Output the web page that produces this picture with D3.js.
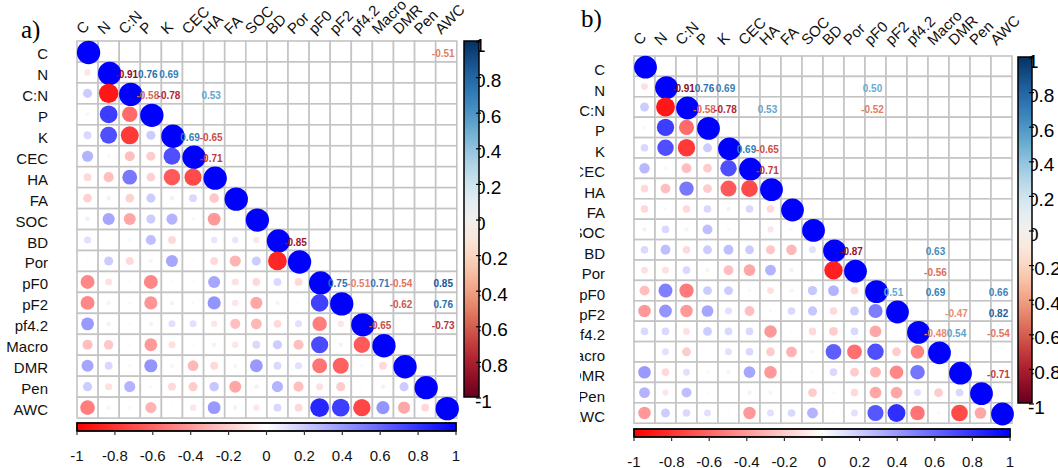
<!DOCTYPE html>
<html>
<head>
<meta charset="utf-8">
<script src="https://cdn.jsdelivr.net/npm/d3@7"></script>
<style>
  body { margin: 0; background: #fff; }
  svg { display: block; }
</style>
</head>
<body>
<div id="chart"></div>
<script>
// variable names, same order for rows and columns
const vars = ['C', 'N', 'C:N', 'P', 'K', 'CEC', 'HA', 'FA', 'SOC', 'BD', 'Por',
  'pF0', 'pF2', 'pf4.2', 'Macro', 'DMR', 'Pen', 'AWC'];

// lower triangle, row i holds r(i, 0..i-1)
const corrA = [
  [],
  [-0.10],
  [0.20, -0.91],
  [-0.04, 0.76, -0.58],
  [0.15, 0.69, -0.78, 0.20],
  [0.30, 0.03, -0.25, -0.20, 0.69],
  [-0.15, -0.25, 0.53, -0.18, -0.65, -0.71],
  [-0.18, 0.05, -0.18, 0.20, 0.05, 0.15, -0.22],
  [0.06, 0.35, -0.35, 0.20, 0.30, 0.03, -0.40, 0.02],
  [0.12, 0.02, 0.03, 0.25, -0.15, 0.02, 0.10, 0.10, -0.10],
  [0.02, 0.20, -0.15, -0.05, 0.35, 0.02, -0.15, -0.30, 0.20, -0.85],
  [-0.47, -0.12, 0.02, -0.47, 0.02, 0.02, 0.35, -0.12, -0.15, 0.15, -0.15],
  [-0.47, -0.05, -0.03, -0.42, 0.05, 0.03, 0.42, -0.10, -0.35, -0.05, 0.02, 0.75],
  [0.40, 0.05, 0.02, 0.05, 0.12, 0.12, -0.10, -0.25, -0.28, -0.15, 0.12, -0.51, -0.10],
  [-0.25, -0.22, 0.02, -0.40, -0.12, 0.02, 0.05, -0.10, 0.15, 0.20, -0.25, 0.71, 0.05, -0.65],
  [0.35, 0.15, 0.03, 0.42, -0.05, -0.28, -0.15, -0.05, 0.40, 0.15, 0.12, -0.54, -0.62, 0.03, -0.15],
  [0.20, -0.12, 0.30, -0.03, -0.15, -0.20, 0.22, -0.35, -0.06, 0.30, -0.25, -0.12, -0.20, 0.02, 0.05, 0.20],
  [-0.51, -0.05, -0.03, -0.30, 0.02, -0.10, 0.40, 0.05, -0.10, 0.15, -0.15, 0.85, 0.76, -0.73, 0.42, -0.35, -0.15]
];

const corrB = [
  [],
  [-0.12],
  [0.20, -0.91],
  [-0.04, 0.76, -0.58],
  [0.15, 0.69, -0.78, 0.20],
  [0.28, 0.03, -0.25, -0.20, 0.69],
  [-0.15, -0.25, 0.53, -0.20, -0.65, -0.71],
  [-0.15, 0.03, -0.15, 0.15, 0.05, 0.15, -0.15],
  [0.05, 0.15, -0.05, 0.25, 0.03, 0.02, -0.10, 0.03],
  [0.15, 0.25, -0.15, 0.20, 0.25, 0.20, -0.22, -0.28, 0.12],
  [-0.12, -0.12, 0.15, -0.05, -0.25, -0.35, 0.30, 0.05, 0.02, -0.87],
  [-0.25, 0.50, -0.52, 0.20, 0.20, -0.03, -0.12, -0.05, 0.22, 0.30, -0.15],
  [-0.40, 0.42, -0.40, 0.35, 0.12, -0.25, -0.03, 0.15, 0.22, -0.15, 0.20, 0.51],
  [0.15, 0.15, -0.12, 0.20, 0.15, 0.15, -0.40, 0.02, -0.15, -0.20, 0.15, -0.35, 0.02],
  [0.01, 0.12, -0.20, -0.02, 0.12, 0.15, -0.20, -0.30, 0.04, 0.63, -0.56, 0.69, -0.20, -0.48],
  [0.40, -0.15, 0.12, 0.03, -0.05, 0.35, -0.40, 0.02, -0.03, 0.15, -0.20, -0.30, -0.47, 0.54, 0.01],
  [0.30, -0.10, 0.25, 0.02, 0.01, 0.05, -0.05, 0.01, -0.20, 0.03, -0.15, -0.35, -0.35, 0.12, -0.20, 0.15],
  [-0.40, 0.20, 0.15, 0.12, 0.02, -0.40, 0.12, 0.15, 0.30, 0.02, 0.12, 0.66, 0.82, -0.54, 0.03, -0.71, -0.35]
];

// only coefficients at least this large are printed in the upper half
const showA = 0.5;
const showB = 0.46;

const legendTicks = [-1, -0.8, -0.6, -0.4, -0.2, 0, 0.2, 0.4, 0.6, 0.8, 1];

const W = 1058, H = 468;

const svg = d3.select('#chart')
  .append('svg')
  .attr('width', W)
  .attr('height', H)
  .style('font-family', '"Liberation Sans", Arial, sans-serif');

const defs = svg.append('defs');

const circleColor = d3.scaleLinear()
  .domain([-1, 0, 1])
  .range(['#ff0000', '#ffffff', '#0000ff']);
const textColor = v => d3.interpolateRdBu((v + 1) / 2);
const fmt = v => v.toFixed(2);

// gradients for the two colour bars
const gH = defs.append('linearGradient').attr('id', 'gradH')
  .attr('x1', '0%').attr('x2', '100%').attr('y1', '0%').attr('y2', '0%');
legendTicks.forEach(t => {
  gH.append('stop').attr('offset', ((t + 1) / 2 * 100) + '%').attr('stop-color', circleColor(t));
});
const gV = defs.append('linearGradient').attr('id', 'gradV')
  .attr('x1', '0%').attr('x2', '0%').attr('y1', '0%').attr('y2', '100%');
d3.range(0, 1.0001, 0.05).forEach(t => {
  gV.append('stop').attr('offset', (t * 100) + '%').attr('stop-color', d3.interpolateRdBu(1 - t));
});

defs.append('clipPath').attr('id', 'clipB')
  .append('rect').attr('x', 580).attr('y', 0).attr('width', W - 580).attr('height', H);

const drawPanel = (g, corr, o) => {
  const n = vars.length;
  const r = (i, j) => i === j ? 1 : (i > j ? corr[i][j] : corr[j][i]);

  const xScale = d3.scaleBand().domain(vars).range([o.x0, o.x0 + n * o.cw]);
  const yScale = d3.scaleBand().domain(vars).range([o.y0, o.y0 + n * o.ch]);
  const rmax = Math.min(o.cw, o.ch) / 2 - 0.3;
  const rad = d3.scaleSqrt().domain([0, 1]).range([0, rmax]);

  const cells = [];
  vars.forEach((a, i) => vars.forEach((b, j) => cells.push({ row: a, col: b, i, j, v: r(i, j) })));

  // grid
  g.append('g').selectAll('rect')
    .data(cells)
    .enter()
    .append('rect')
    .attr('x', d => xScale(d.col))
    .attr('y', d => yScale(d.row))
    .attr('width', o.cw)
    .attr('height', o.ch)
    .attr('fill', '#fff')
    .attr('stroke', '#c4c4c4')
    .attr('stroke-width', 1.6);

  // circles, lower half and diagonal
  g.append('g').selectAll('circle')
    .data(cells.filter(d => d.i >= d.j))
    .enter()
    .append('circle')
    .attr('cx', d => xScale(d.col) + o.cw / 2 + (d.i === d.j ? 1 : 0))
    .attr('cy', d => yScale(d.row) + o.ch / 2 + (d.i === d.j ? 1 : 0))
    .attr('r', d => d.i === d.j ? rmax + 1.5 : rad(Math.abs(d.v)))
    .attr('fill', d => circleColor(d.v));

  // numbers, upper half
  g.append('g').selectAll('text')
    .data(cells.filter(d => d.i < d.j && Math.abs(d.v) >= o.show))
    .enter()
    .append('text')
    .attr('x', d => xScale(d.col) + o.cw / 2 - 3)
    .attr('y', d => yScale(d.row) + o.ch / 2 + 2)
    .attr('text-anchor', 'middle')
    .attr('dominant-baseline', 'central')
    .attr('font-size', 10)
    .attr('font-weight', 'bold')
    .attr('fill', d => textColor(d.v))
    .text(d => fmt(d.v));

  // row labels
  g.append('g').selectAll('text')
    .data(vars)
    .enter()
    .append('text')
    .attr('x', o.x0 - 29)
    .attr('y', d => yScale(d) + o.ch / 2 + o.rowDy)
    .attr('text-anchor', 'end')
    .attr('dominant-baseline', 'central')
    .attr('font-size', 15)
    .attr('fill', '#111')
    .text(d => d);

  // column labels
  g.append('g').selectAll('text')
    .data(vars)
    .enter()
    .append('text')
    .attr('transform', d => `translate(${xScale(d) + o.cw / 2 - 5}, ${o.y0 - o.colGap}) rotate(-45)`)
    .attr('font-size', 15)
    .attr('fill', '#111')
    .text(d => d);

  // vertical colour bar (RdBu)
  const vs = d3.scaleLinear().domain([1, -1]).range([o.vb.y0 + 1, o.vb.y1 + 1]);
  g.append('g').selectAll('text')
    .data(legendTicks)
    .enter()
    .append('text')
    .attr('x', o.vb.x + o.vb.w - 4)
    .attr('y', d => vs(d) + 3)
    .attr('dominant-baseline', 'central')
    .attr('font-size', 19)
    .attr('fill', '#000')
    .text(d => d);
  g.append('rect')
    .attr('x', o.vb.x).attr('y', o.vb.y0)
    .attr('width', o.vb.w).attr('height', o.vb.y1 - o.vb.y0)
    .attr('fill', 'url(#gradV)')
    .attr('stroke', '#000')
    .attr('stroke-width', 1.5);
  g.append('g').selectAll('line')
    .data(legendTicks)
    .enter()
    .append('line')
    .attr('x1', o.vb.x + o.vb.w - 3).attr('x2', o.vb.x + o.vb.w + 2)
    .attr('y1', d => vs(d)).attr('y2', d => vs(d))
    .attr('stroke', '#000')
    .attr('stroke-width', 1.2);

  // horizontal colour bar (red-white-blue)
  const hs = d3.scaleLinear().domain([-1, 1]).range([o.hb.x0, o.hb.x1]);
  g.append('rect')
    .attr('x', o.hb.x0).attr('y', o.hb.y)
    .attr('width', o.hb.x1 - o.hb.x0).attr('height', o.hb.h)
    .attr('fill', 'url(#gradH)')
    .attr('stroke', '#000')
    .attr('stroke-width', 1.8);
  g.append('g').selectAll('line')
    .data(legendTicks)
    .enter()
    .append('line')
    .attr('x1', d => hs(d)).attr('x2', d => hs(d))
    .attr('y1', o.hb.y + o.hb.h).attr('y2', o.hb.y + o.hb.h + 4)
    .attr('stroke', '#333')
    .attr('stroke-width', 1.2);
  g.append('g').selectAll('text')
    .data(legendTicks)
    .enter()
    .append('text')
    .attr('x', d => hs(d))
    .attr('y', o.hb.labelY)
    .attr('text-anchor', 'middle')
    .attr('dominant-baseline', 'central')
    .attr('font-size', 15)
    .attr('fill', '#111')
    .text(d => d);

  // panel tag
  g.append('text')
    .attr('x', o.tag.x).attr('y', o.tag.y)
    .attr('font-family', '"Liberation Serif", "Times New Roman", serif')
    .attr('font-size', 25)
    .attr('fill', '#000')
    .text(o.tag.text);
};

drawPanel(svg.append('g'), corrA, {
  x0: 77, y0: 41, cw: 21.1, ch: 20.95, show: showA, rowDy: 2, colGap: 6,
  vb: { x: 464, w: 15, y0: 41, y1: 397 },
  hb: { x0: 77, x1: 456, y: 423, h: 8, labelY: 455 },
  tag: { text: 'a)', x: 21, y: 38 }
});

drawPanel(svg.append('g').attr('clip-path', 'url(#clipB)'), corrB, {
  x0: 634, y0: 56, cw: 21, ch: 20.4, show: showB, rowDy: 3.5, colGap: 10,
  vb: { x: 1018, w: 14, y0: 57, y1: 403 },
  hb: { x0: 634, x1: 1010, y: 429, h: 8, labelY: 461 },
  tag: { text: 'b)', x: 581, y: 27 }
});
</script>
</body>
</html>
